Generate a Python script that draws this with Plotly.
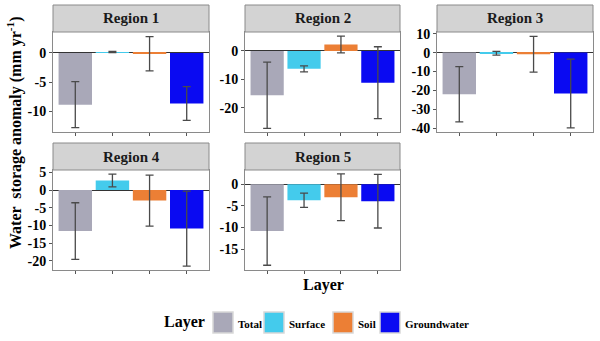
import plotly.graph_objects as go

layers = ["Total", "Surface", "Soil", "Groundwater"]
regions = ["Region 1", "Region 2", "Region 3", "Region 4", "Region 5"]

region1_mean = [-8.9, 0.15, -0.15, -8.7]
region1_sd = [3.95, 0.1, 2.95, 2.9]
region2_mean = [-15.6, -6.3, 2.3, -11.2]
region2_sd = [11.7, 1.05, 2.95, 12.7]
region3_mean = [-22.0, -0.3, -0.9, -21.6]
region3_sd = [14.6, 1.0, 9.45, 18.2]
region4_mean = [-11.6, 2.7, -3.0, -10.9]
region4_sd = [8.0, 1.8, 7.2, 10.6]
region5_mean = [-10.8, -3.7, -3.0, -3.9]
region5_sd = [7.9, 1.65, 5.4, 6.2]

means = [region1_mean, region2_mean, region3_mean, region4_mean, region5_mean]
sds = [region1_sd, region2_sd, region3_sd, region4_sd, region5_sd]

yranges = [[-13.6, 3.6], [-28.6, 6.7], [-42, 10.9], [-22.6, 5.65], [-19.8, 3.3]]
yticks = [[0, -5, -10], [0, -10, -20], [10, 0, -10, -20, -30, -40],
          [5, 0, -5, -10, -15, -20], [0, -5, -10, -15]]

colors = ["#A9A8B8", "#44CBEC", "#EC7F35", "#0A0AF2"]

W, H = 600, 341
FONT = "Liberation Serif, Times New Roman, serif"

# panel boxes in pixels: (x0, x1) and (y_top, y_bottom)
cols = [(53, 209), (245, 400), (437, 593)]
rows = [(32, 132), (170, 270)]
strip_h = 27

fig = go.Figure()
shapes = []
annotations = []

for i, name in enumerate(regions):
    r, c = divmod(i, 3)
    x0, x1 = cols[c]
    yt, yb = rows[r]
    ax = "" if i == 0 else str(i + 1)
    fig.add_trace(go.Bar(
        x=[1, 2, 3, 4], y=means[i], width=0.9,
        marker=dict(color=colors, line=dict(width=0)),
        error_y=dict(type="data", array=sds[i], color="#4a4a4a", thickness=1.3, width=4),
        xaxis="x" + ax, yaxis="y" + ax, showlegend=False, hoverinfo="skip",
    ))
    fig.update_layout(**{
        "xaxis" + ax: dict(
            domain=[x0 / W, x1 / W], range=[0.4, 4.6], anchor="y" + ax, automargin=False,
            tickvals=[1, 2, 3, 4], showticklabels=False, ticks="outside", ticklen=3,
            tickcolor="#555", showline=True, mirror=True, linecolor="#8a8a8a",
            showgrid=False, zeroline=False, fixedrange=True,
        ),
        "yaxis" + ax: dict(
            domain=[1 - yb / H, 1 - yt / H], range=yranges[i], anchor="x" + ax,
            automargin=False, tickvals=yticks[i],
            ticktext=["<b>%d</b>" % v for v in yticks[i]],
            ticks="outside", ticklen=3, tickcolor="#555",
            tickfont=dict(family=FONT, size=14, color="black", weight=700),
            showline=True, mirror=True, linecolor="#8a8a8a", showgrid=False,
            zeroline=True, zerolinecolor="#333", zerolinewidth=1, fixedrange=True,
        ),
    })
    shapes.append(dict(type="rect", xref="paper", yref="paper",
                       x0=x0 / W, x1=x1 / W, y0=1 - yt / H, y1=1 - (yt - strip_h) / H,
                       fillcolor="#D3D3D3", line=dict(color="#8a8a8a", width=1)))
    annotations.append(dict(text="<b>" + name + "</b>", xref="paper", yref="paper",
                            x=(x0 + x1) / 2 / W, y=1 - (yt - strip_h / 2) / H,
                            xanchor="center", yanchor="middle", showarrow=False,
                            font=dict(family=FONT, size=15, color="#1a1a1a")))

annotations.append(dict(text="<b>Water  storage anomaly (mm yr<sup>-1</sup>)</b>", xref="paper",
                        yref="paper", x=14 / W, y=1 - 133 / H, xanchor="center",
                        yanchor="middle", textangle=-90, showarrow=False,
                        font=dict(family=FONT, size=16, color="black")))
annotations.append(dict(text="<b>Layer</b>", xref="paper", yref="paper", x=323 / W,
                        y=1 - 285 / H, xanchor="center", yanchor="middle", showarrow=False,
                        font=dict(family=FONT, size=16, color="black")))

# legend drawn as boxes and labels
annotations.append(dict(text="<b>Layer</b>", xref="paper", yref="paper", x=162 / W,
                        y=1 - 322 / H, xanchor="left", yanchor="middle", showarrow=False,
                        font=dict(family=FONT, size=16, color="black")))
legend_x = [213, 264, 333, 380]
for lab, col, lx in zip(layers, colors, legend_x):
    shapes.append(dict(type="rect", xref="paper", yref="paper",
                       x0=lx / W, x1=(lx + 20) / W, y0=1 - 333 / H, y1=1 - 312 / H,
                       fillcolor=col, line=dict(color="#d8d8d8", width=1.5)))
    annotations.append(dict(text="<b>" + lab + "</b>", xref="paper", yref="paper",
                            x=(lx + 23) / W, y=1 - 324 / H, xanchor="left", yanchor="middle",
                            showarrow=False, font=dict(family=FONT, size=11, color="black")))

fig.update_layout(
    width=W, height=H, margin=dict(l=0, r=0, t=0, b=0, pad=0, autoexpand=False),
    paper_bgcolor="white", plot_bgcolor="white",
    shapes=shapes, annotations=annotations, showlegend=False,
)
fig.write_html("out.html", config={"displayModeBar": False},
               post_script="document.body.style.margin='0';")
